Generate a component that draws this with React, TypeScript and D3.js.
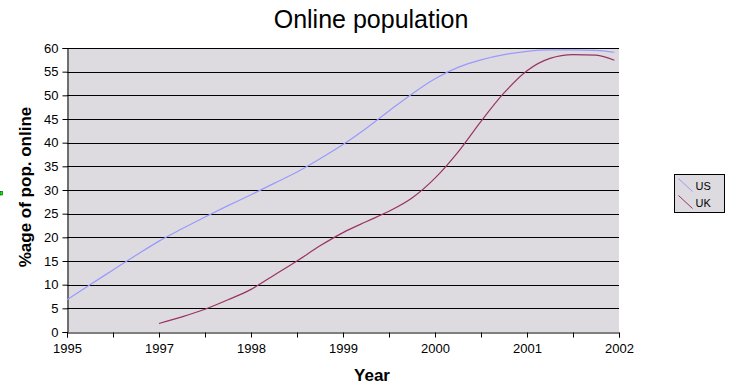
import React, { useEffect, useRef } from 'react';
import * as d3 from 'd3';

// category ticks along the x axis (13 ticks, only some carry a label)
const tickLabels = ['1995', '', '1997', '', '1998', '', '1999', '', '2000', '', '2001', '', '2002'];
const yTicks = [0, 5, 10, 15, 20, 25, 30, 35, 40, 45, 50, 55, 60];

// x position measured in tick intervals
const usX = [0, 0.5, 1, 1.5, 2, 2.5, 3, 3.5, 4, 4.5, 5, 5.5, 6, 6.5, 7, 7.5, 8, 8.5, 9, 9.5, 10, 10.5, 11, 11.5, 11.9];
const usY = [6.8, 10, 13.1, 16.2, 19.2, 21.8, 24.3, 26.7, 29, 31.4, 33.8, 36.6, 39.6, 43, 46.7, 50.3, 53.5, 55.9, 57.5, 58.6, 59.3, 59.6, 59.6, 59.5, 59.1];

const ukX = [2, 2.5, 3, 3.5, 4, 4.5, 5, 5.5, 6, 6.5, 7, 7.5, 8, 8.5, 9, 9.5, 10, 10.5, 11, 11.5, 11.9];
const ukY = [1.8, 3.2, 4.8, 6.8, 9, 12, 15, 18.2, 21, 23.3, 25.5, 28.3, 32.5, 38, 44.5, 50.5, 55.2, 57.8, 58.6, 58.5, 57.4];

const series = [
  { name: 'US', xs: usX, ys: usY, color: '#9999ff' },
  { name: 'UK', xs: ukX, ys: ukY, color: '#993366' },
];

const W = 739;
const H = 388;
const font = 'Liberation Sans, Arial, sans-serif';

const App: React.FC = () => {
  const ref = useRef<SVGSVGElement>(null);

  useEffect(() => {
    const svg = d3.select(ref.current);
    svg.selectAll('*').remove();

    const left = 67, right = 619, top = 48, bottom = 332;

    const x = d3.scaleLinear().domain([0, tickLabels.length - 1]).range([left, right]);
    const y = d3.scaleLinear().domain([0, 60]).range([bottom, top]);

    svg.append('rect').attr('width', W).attr('height', H).attr('fill', '#fff');

    // plot area
    svg.append('rect')
      .attr('x', left).attr('y', top)
      .attr('width', right - left).attr('height', bottom - top)
      .attr('fill', '#dddbdf');

    // gridlines
    svg.append('g')
      .selectAll('line')
      .data(yTicks.filter(d => d > 0))
      .join('line')
      .attr('x1', left).attr('x2', right)
      .attr('y1', d => Math.round(y(d)) + 0.5).attr('y2', d => Math.round(y(d)) + 0.5)
      .attr('stroke', '#000').attr('stroke-width', 1);

    // y axis
    const yAxis = svg.append('g')
      .attr('transform', `translate(${left + 0.5},0)`)
      .call(d3.axisLeft(y).tickValues(yTicks).tickSize(5).tickPadding(4).tickFormat(d3.format('d')));
    yAxis.selectAll('line').attr('stroke', '#000');
    yAxis.select('.domain').attr('stroke', '#000');
    yAxis.selectAll('text').attr('font-family', font).attr('font-size', 13).attr('fill', '#000');

    // x axis
    const xAxis = svg.append('g')
      .attr('transform', `translate(0,${bottom + 0.5})`)
      .call(d3.axisBottom(x)
        .tickValues(d3.range(tickLabels.length))
        .tickSize(5).tickPadding(6)
        .tickFormat(i => tickLabels[i as number]));
    xAxis.selectAll('line').attr('stroke', '#000');
    xAxis.select('.domain').attr('stroke', '#000');
    xAxis.selectAll('text').attr('font-family', font).attr('font-size', 13).attr('fill', '#000');

    // lines
    const line = d3.line<[number, number]>()
      .x(d => x(d[0]))
      .y(d => y(d[1]))
      .curve(d3.curveMonotoneX);

    series.forEach(s => {
      const pts: [number, number][] = s.xs.map((v, i) => [v, s.ys[i]]);
      svg.append('path')
        .datum(pts)
        .attr('fill', 'none')
        .attr('stroke', s.color)
        .attr('stroke-width', 1.2)
        .attr('d', line);
    });

    // title
    svg.append('text')
      .attr('x', 371).attr('y', 28)
      .attr('text-anchor', 'middle')
      .attr('font-family', font).attr('font-size', 25)
      .text('Online population');

    svg.append('text')
      .attr('transform', `translate(31,187) rotate(-90)`)
      .attr('text-anchor', 'middle')
      .attr('font-family', font).attr('font-size', 17).attr('font-weight', 'bold')
      .text('%age of pop. online');

    svg.append('text')
      .attr('x', 372).attr('y', 381)
      .attr('text-anchor', 'middle')
      .attr('font-family', font).attr('font-size', 17).attr('font-weight', 'bold')
      .text('Year');

    // legend
    const lg = svg.append('g').attr('transform', 'translate(674.5,174.5)');
    lg.append('rect').attr('width', 50).attr('height', 38)
      .attr('fill', '#dddbdf').attr('stroke', '#000');
    series.forEach((s, i) => {
      const yy = 4 + i * 17;
      lg.append('line')
        .attr('x1', 4).attr('y1', yy).attr('x2', 18).attr('y2', yy + 13)
        .attr('stroke', s.color);
      lg.append('text')
        .attr('x', 21).attr('y', yy + 11)
        .attr('font-family', font).attr('font-size', 11)
        .text(s.name);
    });

    // small marker at the left edge
    svg.append('rect').attr('x', 0).attr('y', 191.5).attr('width', 2.5).attr('height', 3.5)
      .attr('fill', '#00ff00').attr('stroke', '#003300').attr('stroke-width', 0.6);
  }, []);

  return <svg ref={ref} width={W} height={H} style={{ position: 'absolute', left: 0, top: 0 }} />;
};

export default App;
